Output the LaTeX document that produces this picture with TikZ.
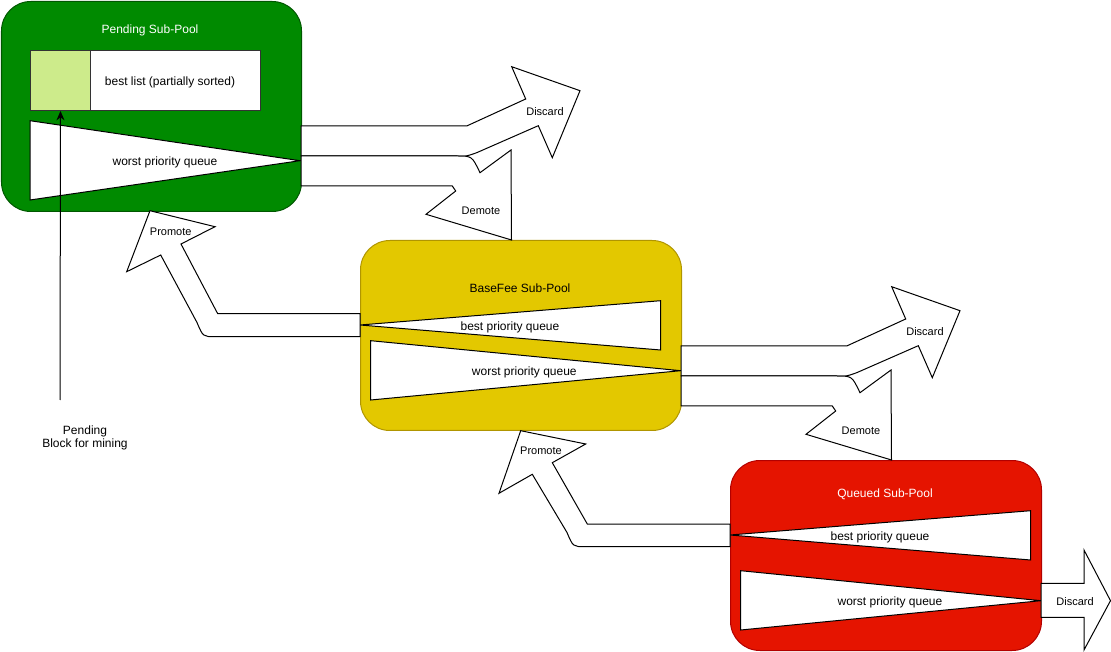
\documentclass[tikz,border=0pt]{standalone}
\usepackage{fontspec}
\setmainfont{Liberation Sans}
\usetikzlibrary{arrows.meta}
\definecolor{pgreen}{HTML}{008A00}
\definecolor{pgreenS}{HTML}{005700}
\definecolor{byellow}{HTML}{E3C800}
\definecolor{byellowS}{HTML}{B09500}
\definecolor{qred}{HTML}{E51400}
\definecolor{qredS}{HTML}{B20000}
\definecolor{lgreen}{HTML}{CDEB8B}
\tikzset{
  pool/.style={draw, line width=0.75pt, rounded corners=22pt, anchor=north west, inner sep=0pt},
  queue/.style={draw=black, fill=white, line width=0.75pt, line join=miter},
  flex/.style={draw=black, fill=white, line width=0.75pt, line join=miter},
  lbl/.style={font=\fontsize{9}{10.5}\selectfont, inner sep=0pt, yshift=-1pt},
  elbl/.style={font=\fontsize{8.25}{10}\selectfont, inner sep=0pt, yshift=-0.75pt},
}
\begin{document}
\begin{tikzpicture}[x=0.75pt,y=-0.75pt]
\useasboundingbox (0,0) rectangle (1111,652);

% pools
\node[pool, fill=pgreen, draw=pgreenS, minimum width=225pt, minimum height=157.5pt] (pending) at (1,1) {};
\node[pool, fill=byellow, draw=byellowS, minimum width=240.75pt, minimum height=142.5pt] (basefee) at (360,240) {};
\node[pool, fill=qred, draw=qredS, minimum width=233.25pt, minimum height=142.5pt] (queued) at (730,460) {};

\node[lbl, text=white] (ptitle) at (150,29) {Pending Sub-Pool};
\node[lbl, text=black] (btitle) at (520,286.7) {BaseFee Sub-Pool};
\node[lbl, text=white] (qtitle) at (885,492.7) {Queued Sub-Pool};

% best list
\node[draw=black!80, fill=white, line width=0.75pt, anchor=north west, minimum width=172.5pt, minimum height=45pt, inner sep=0pt] (bestlist) at (30,50) {};
\node[draw=black!80, fill=lgreen, line width=0.75pt, anchor=north west, minimum width=45pt, minimum height=45pt, inner sep=0pt] (cell) at (30,50) {};
\node[lbl] (bltext) at (170,81) {best list (partially sorted)};

% queues
\path[queue] (30,120.7) -- (300,160.7) -- (30,200) -- cycle;
\node[lbl] (pworst) at (165,161) {worst priority queue};
\path[queue] (360,325) -- (660.7,300.7) -- (660.7,350) -- cycle;
\node[lbl] (bbest) at (510,325.7) {best priority queue};
\path[queue] (370.7,340.7) -- (680.7,370.7) -- (370.7,400) -- cycle;
\node[lbl] (bworst) at (524.3,371) {worst priority queue};
\path[queue] (730,535) -- (1030.7,510.7) -- (1030.7,560) -- cycle;
\node[lbl] (qbest) at (880,536) {best priority queue};
\path[queue] (740.7,570.7) -- (1041,600.7) -- (740.7,630) -- cycle;
\node[lbl] (qworst) at (890,600.7) {worst priority queue};

% discard / demote arrows from pending and basefee
\foreach \dx/\dy/\nm in {0/0/p, 380/220/b}{
  \begin{scope}[shift={(\dx,\dy)}]
    \path[flex] (301,126) -- (466.7,126) -- (525.7,99) -- (511.7,66.7) -- (580,90.7) -- (552.3,157.7) -- (538.3,125.7) -- (476.7,152.7) .. controls (466,156.5) .. (456.7,156) -- (301,156) -- cycle;
    \path[flex] (301,156) -- (456.7,156) .. controls (472,156) .. (480,172.7) -- (511,150) -- (511.5,240) -- (426,214.3) -- (455.7,191) -- (452.3,186) -- (301,186) -- cycle;
    \node[elbl] (discard\nm) at (545,111) {Discard};
    \node[elbl] (demote\nm) at (481,210) {Demote};
  \end{scope}
}

% promote arrows
\path[flex] (360,313.7) -- (217.7,313.7) -- (181,244) -- (215,226.7) -- (150,210.7) -- (126.7,271.7) -- (160.7,255) -- (197,322.5) .. controls (203,336.7) .. (215,336.7) -- (360,336.7) -- cycle;
\node[elbl] (promote1) at (170.7,230.7) {Promote};
\path[flex] (730,524) -- (587.3,524) -- (552.3,462.7) -- (585.7,444) -- (520.7,430.7) -- (499,493.3) -- (532.3,474.3) -- (567,532.5) .. controls (573,546.7) .. (585,546.7) -- (730,546.7) -- cycle;
\node[elbl] (promote2) at (541,449.3) {Promote};

% final discard
\path[flex] (1041,583.3) -- (1084,583.3) -- (1084,550) -- (1110.5,600.7) -- (1084,650) -- (1084,617.3) -- (1041,617.3) -- cycle;
\node[elbl] (discardq) at (1075,600.7) {Discard};

% pending block
\coordinate (pb) at (60,400);
\draw[line width=0.75pt, -{Stealth[length=7pt,width=6pt]}] (pb) -- (cell.south);
\node[lbl, align=center, font=\fontsize{9}{10}\selectfont] (pblabel) at (85,436.7) {Pending\\Block for mining};
\end{tikzpicture}
\end{document}
